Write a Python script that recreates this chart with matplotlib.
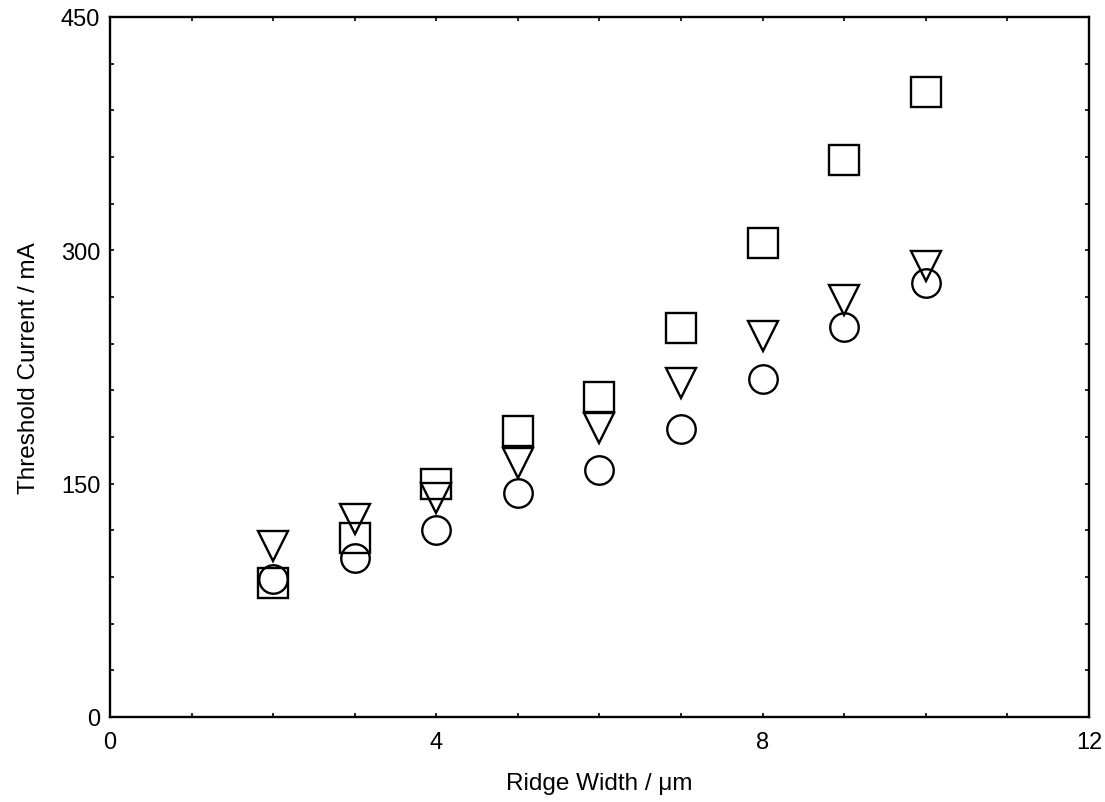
import matplotlib
matplotlib.use("Agg")
import matplotlib.pyplot as plt
from matplotlib.ticker import MultipleLocator

plt.rcParams['font.family'] = ['Liberation Sans', 'DejaVu Sans']

# Ridge width (µm) and threshold current (mA) for three device series
ridge_width = [2, 3, 4, 5, 6, 7, 8, 9, 10]
current_square = [86, 115, 150, 184, 206, 250, 305, 358, 402]
current_triangle = [110, 127, 141, 163, 186, 215, 245, 268, 290]
current_circle = [89, 102, 120, 144, 159, 185, 217, 251, 279]

x_ticks = [0, 4, 8, 12]
y_ticks = [0, 150, 300, 450]

fig = plt.figure(figsize=(11.05, 8.03), dpi=100)
ax = fig.add_axes([0.0995, 0.1059, 0.886, 0.8717])

common = dict(linestyle='none', markerfacecolor='none', markeredgecolor='black',
              markeredgewidth=1.7, clip_on=False)
ax.plot(ridge_width, current_square, marker='s', markersize=21, **common)
ax.plot(ridge_width, current_triangle, marker='v', markersize=21.5, **common)
ax.plot(ridge_width, current_circle, marker='o', markersize=20.5, **common)

ax.set_xlim(0, 12)
ax.set_ylim(0, 450)
ax.set_xticks(x_ticks)
ax.set_yticks(y_ticks)
ax.xaxis.set_minor_locator(MultipleLocator(1))
ax.yaxis.set_minor_locator(MultipleLocator(30))
ax.tick_params(which='both', direction='in', top=True, right=True,
               length=3, width=1.2, labelsize=17)
ax.tick_params(axis='x', pad=10)
ax.tick_params(axis='y', pad=7)
for s in ax.spines.values():
    s.set_linewidth(1.7)

ax.set_xlabel('Ridge Width / \u03bcm', fontsize=17.5, labelpad=14)
ax.set_ylabel('Threshold Current / mA', fontsize=17.5, labelpad=15)

fig.savefig('out.png', dpi=100)
